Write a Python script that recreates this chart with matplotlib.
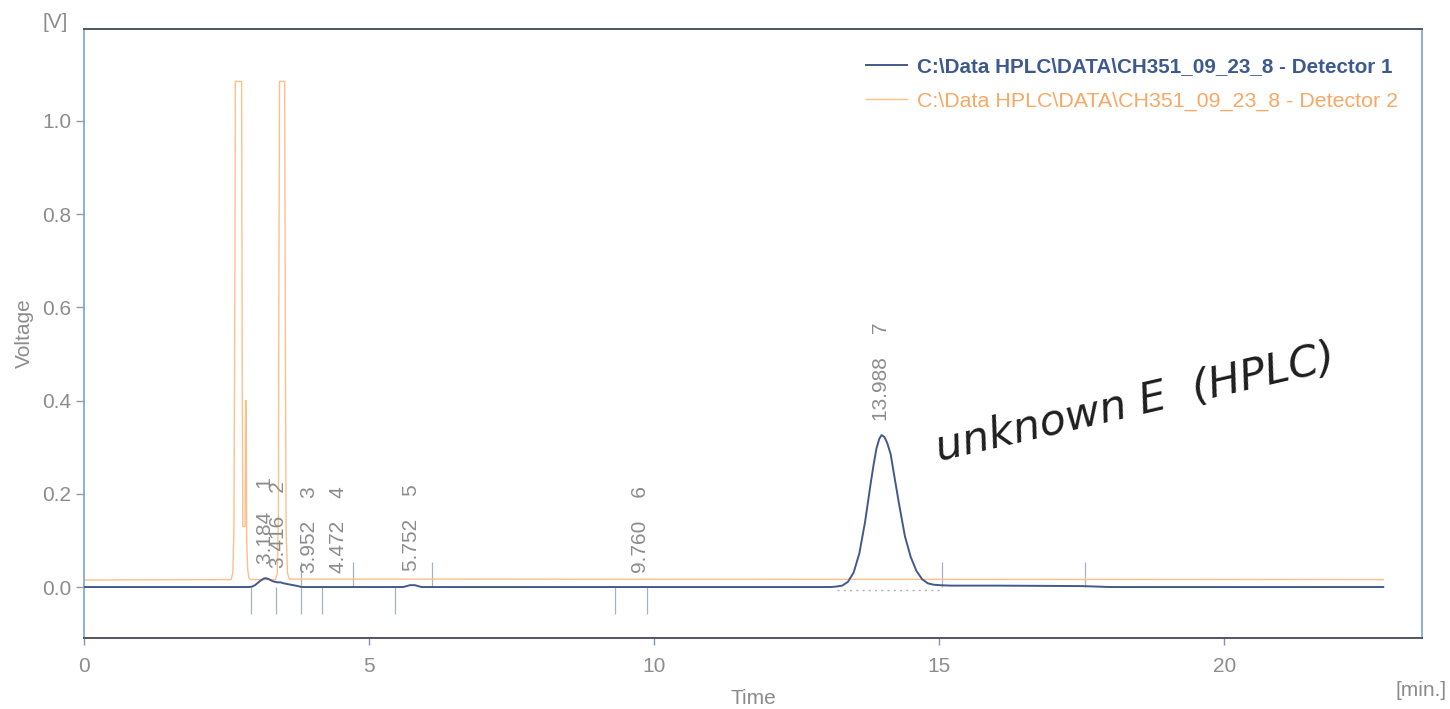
import matplotlib
matplotlib.use("Agg")
import matplotlib.pyplot as plt

plt.rcParams['font.family'] = ['Liberation Sans', 'DejaVu Sans']

# ---- data ----
det1_time = [0.0, 2.90, 2.95, 3.00, 3.05, 3.10, 3.15, 3.19, 3.24, 3.30, 3.35, 3.40, 3.45,
             3.50, 3.58, 3.67, 3.75, 3.82, 5.60, 5.66, 5.72, 5.80, 5.86, 5.92,
             13.10, 13.20, 13.30, 13.40, 13.50, 13.60, 13.70, 13.80, 13.85, 13.90, 13.95,
             13.99, 14.04, 14.09, 14.15, 14.20, 14.30, 14.40, 14.50, 14.60, 14.70, 14.80,
             14.90, 15.00, 15.20, 16.00, 17.50, 18.00, 22.79]
det1_volt = [0.0, 0.0, 0.001, 0.004, 0.009, 0.014, 0.018, 0.019, 0.017, 0.013, 0.011, 0.010, 0.010,
             0.008, 0.006, 0.004, 0.002, 0.0, 0.0, 0.002, 0.004, 0.004, 0.002, 0.0,
             0.0, 0.001, 0.003, 0.011, 0.031, 0.072, 0.139, 0.223, 0.262, 0.297, 0.318,
             0.326, 0.322, 0.309, 0.285, 0.248, 0.176, 0.109, 0.065, 0.035, 0.017, 0.008,
             0.005, 0.004, 0.003, 0.003, 0.002, 0.0, 0.0]

det2_time = [0.0, 2.58, 2.61, 2.63, 2.645, 2.655, 2.765, 2.775, 2.785, 2.825, 2.835, 2.845,
             2.855, 2.87, 2.89, 2.92, 3.36, 3.39, 3.41, 3.42, 3.43, 3.52, 3.53, 3.545,
             3.57, 3.60, 22.79]
det2_volt = [0.015, 0.016, 0.03, 0.12, 0.60, 1.085, 1.085, 0.50, 0.13, 0.13, 0.40, 0.40,
             0.10, 0.04, 0.02, 0.016, 0.016, 0.03, 0.15, 0.70, 1.085, 1.085, 0.60, 0.12,
             0.03, 0.017, 0.016]

peak_times = [3.184, 3.416, 3.952, 4.472, 5.752, 9.760, 13.988]
peak_heights = [0.019, 0.010, 0.0, 0.0, 0.004, 0.0, 0.326]
peak_ids = ["1", "2", "3", "4", "5", "6", "7"]

marker_up = [3.81, 4.72, 6.11, 15.05, 17.56]
marker_down = [2.93, 3.37, 3.81, 4.18, 5.46, 9.32, 9.87]

baseline_span = [13.20, 15.05]

legend_labels = [r"C:\Data HPLC\DATA\CH351_09_23_8 - Detector 1",
                 r"C:\Data HPLC\DATA\CH351_09_23_8 - Detector 2"]

x_ticks = [0, 5, 10, 15, 20]
y_ticks = [0.0, 0.2, 0.4, 0.6, 0.8, 1.0]

# ---- styling ----
BLUE = "#44598a"
ORANGE = "#fcc08c"
GRAY = "#8c8c8c"
MARK = "#aab0bd"

fig = plt.figure(figsize=(14.5, 7.09), dpi=100)
ax = fig.add_axes([84/1450, 1-638/709, (1422-84)/1450, (638-29)/709])

ax.set_xlim(0, 23.47)
ax.set_ylim(-0.1094, 1.1974)

l2, = ax.plot(det2_time, det2_volt, color=ORANGE, lw=1.0, zorder=2)
l1, = ax.plot(det1_time, det1_volt, color=BLUE, lw=1.4, zorder=3)

ax.vlines(marker_up, 0.0, 0.054, color=MARK, lw=0.9, zorder=1)
ax.vlines(marker_down, -0.058, 0.0, color=MARK, lw=0.9, zorder=1)
ax.hlines(-0.006, baseline_span[0], baseline_span[1], color="#b0b0b0", lw=1.0,
          linestyles=(0, (1.5, 3)), zorder=1)

for t, h, pid in zip(peak_times, peak_heights, peak_ids):
    ax.annotate(f"{t:.3f}    {pid}", xy=(t, h), xytext=(0, 10),
                textcoords="offset points", rotation=90, ha="center", va="bottom",
                color=GRAY, fontsize=15)

ax.set_xticks(x_ticks)
ax.set_xticklabels([str(v) for v in x_ticks])
ax.set_yticks(y_ticks)
ax.set_yticklabels([f"{v:.1f}" for v in y_ticks])
ax.tick_params(axis="y", direction="out", length=6, width=1, color="#999999",
               labelcolor=GRAY, labelsize=15, pad=3)
ax.tick_params(axis="x", direction="out", length=5, width=1, color="#7f93b8",
               labelcolor=GRAY, labelsize=15, pad=9)

for side in ("top", "bottom"):
    ax.spines[side].set_color("#50555f")
    ax.spines[side].set_linewidth(1.4)
for side in ("left", "right"):
    ax.spines[side].set_color("#7aa2d4")
    ax.spines[side].set_linewidth(1.2)

ax.set_xlabel("Time", color=GRAY, fontsize=15, labelpad=9)
ax.set_ylabel("Voltage", color=GRAY, fontsize=15, labelpad=6)
fig.text(55/1450, 1-22/709, "[V]", color=GRAY, fontsize=15, ha="center", va="center")
fig.text(1421/1450, 1-690/709, "[min.]", color=GRAY, fontsize=15, ha="center", va="center")

leg = ax.legend([l1, l2], legend_labels, loc="upper left",
                bbox_to_anchor=((866-84)/1338, (638-57)/609), frameon=False,
                fontsize=15.4, handlelength=1.9, handletextpad=0.5, borderpad=0,
                borderaxespad=0, labelspacing=0.72)
t1, t2 = leg.get_texts()
t1.set_color("#3d5a8f")
t1.set_fontweight("bold")
t1.set_fontsize(14.9)
t2.set_color("#f7a865")

# handwritten note
ax.text(15.0, 0.27, "unknown E  (HPLC)", rotation=13, rotation_mode="anchor",
        ha="left", va="baseline", fontsize=31, style="italic", color="#1e1e1e",
        family="DejaVu Sans", fontweight="light")

fig.savefig("out.png", dpi=100)
